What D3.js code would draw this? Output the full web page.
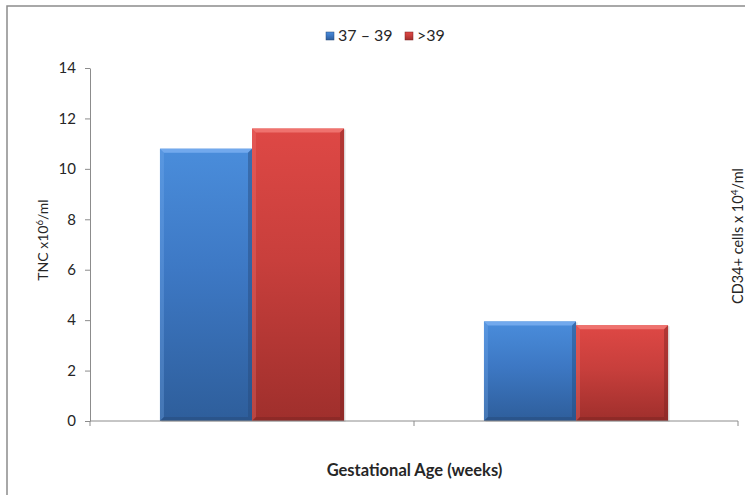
<!DOCTYPE html>
<html>
<head>
<meta charset="utf-8">
<script src="https://cdn.jsdelivr.net/npm/d3@7"></script>
<style>
  html, body { margin: 0; padding: 0; background: #fff; }
  svg { display: block; font-family: Lato, "Open Sans", sans-serif; }
</style>
</head>
<body>
<svg id="chart" width="745" height="495"></svg>
<script>
// ---- data ----
const categories = ["TNC", "CD34+"];
const seriesNames = ["37 – 39", ">39"];
const series1 = [10.8, 3.95];   // 37 – 39
const series2 = [11.6, 3.8];    // >39
const yTicks = [0, 2, 4, 6, 8, 10, 12, 14];
const yTitle = "TNC x10";
const yTitleSup = "6";
const yTitleTail = "/ml";
const y2Title = "CD34+ cells x 10";
const y2TitleSup = "4";
const y2TitleTail = "/ml";
const xTitle = "Gestational Age (weeks)";

const palette = {
  "37 – 39": { top: "#4a8ddb", mid: "#3d78c4", bot: "#2e5e9b", light: "#79aef0", dark: "#25497a" },
  ">39":     { top: "#de4845", mid: "#c83f3c", bot: "#9f2f2c", light: "#f27a76", dark: "#7c2321" }
};

const svg = d3.select("#chart");
const plotL = 90, plotR = 738, plotT = 68, plotB = 421;

// chart border
svg.append("rect").attr("x", 7).attr("y", 6).attr("width", 760).attr("height", 510)
  .attr("fill", "none").attr("stroke", "#8c8c8c").attr("stroke-width", 1.5);

const x = d3.scaleBand().domain(categories).range([plotL, plotR]).paddingInner(0).paddingOuter(0);
const xs = d3.scaleBand().domain(seriesNames).range([0, x.bandwidth()]).paddingInner(0).paddingOuter(0.76);
const y = d3.scaleLinear().domain([0, 14]).range([plotB, plotT]);

// gradients
const defs = svg.append("defs");
seriesNames.forEach((s, i) => {
  const g = defs.append("linearGradient").attr("id", "grad" + i)
    .attr("x1", 0).attr("y1", 0).attr("x2", 0).attr("y2", 1);
  g.append("stop").attr("offset", "0%").attr("stop-color", palette[s].top);
  g.append("stop").attr("offset", "45%").attr("stop-color", palette[s].mid);
  g.append("stop").attr("offset", "100%").attr("stop-color", palette[s].bot);
});

// y axis
const yAxis = d3.axisLeft(y).tickValues(yTicks).tickSize(5).tickSizeOuter(0).tickPadding(9);
const ga = svg.append("g").attr("transform", `translate(${plotL},0)`).call(yAxis);
ga.select(".domain").attr("stroke", "#8c8c8c");
ga.selectAll(".tick line").attr("stroke", "#8c8c8c");
ga.selectAll(".tick text").attr("fill", "#262626").style("font-size", "15px").style("font-family", "Lato, 'Open Sans', sans-serif");

// bars
const data = [];
categories.forEach((c, ci) => {
  data.push({ cat: c, s: seriesNames[0], si: 0, v: series1[ci] });
  data.push({ cat: c, s: seriesNames[1], si: 1, v: series2[ci] });
});
const bev = 4;
const bars = svg.append("g").selectAll("g").data(data).join("g");
bars.each(function(d) {
  const g = d3.select(this);
  const x0 = x(d.cat) + xs(d.s), w = xs.bandwidth();
  const y0 = y(d.v), h = y(0) - y(d.v);
  const p = palette[d.s];
  g.append("rect").attr("x", x0 + 1.5).attr("y", y0 + 1).attr("width", w).attr("height", h)
    .attr("fill", "#000").attr("opacity", 0.12);
  g.append("rect").attr("x", x0).attr("y", y0).attr("width", w).attr("height", h)
    .attr("fill", `url(#grad${d.si})`);
  const x1 = x0 + w, y1 = y0 + h;
  g.append("polygon").attr("points", [[x0, y0], [x1, y0], [x1 - bev, y0 + bev], [x0 + bev, y0 + bev]].join(" "))
    .attr("fill", p.light).attr("opacity", 0.85);
  g.append("polygon").attr("points", [[x0, y0], [x0 + bev, y0 + bev], [x0 + bev, y1 - bev], [x0, y1]].join(" "))
    .attr("fill", p.light).attr("opacity", 0.3);
  g.append("polygon").attr("points", [[x1, y0], [x1 - bev, y0 + bev], [x1 - bev, y1 - bev], [x1, y1]].join(" "))
    .attr("fill", p.dark).attr("opacity", 0.45);
  g.append("polygon").attr("points", [[x0, y1], [x1, y1], [x1 - bev, y1 - bev], [x0 + bev, y1 - bev]].join(" "))
    .attr("fill", p.dark).attr("opacity", 0.5);
});

// x axis (ticks at category boundaries)
const xb = svg.append("g");
xb.append("line").attr("x1", plotL).attr("x2", plotR).attr("y1", y(0)).attr("y2", y(0))
  .attr("stroke", "#8c8c8c");
const bounds = categories.map(c => x(c)).concat([x(categories[categories.length - 1]) + x.bandwidth()]);
xb.selectAll("line.tk").data(bounds).join("line").attr("class", "tk")
  .attr("x1", d => d).attr("x2", d => d).attr("y1", y(0)).attr("y2", y(0) + 5)
  .attr("stroke", "#8c8c8c");

// titles
const t1 = svg.append("text").attr("transform", `translate(48,240) rotate(-90)`)
  .attr("text-anchor", "middle").attr("fill", "#262626").style("font-size", "14px");
t1.append("tspan").text(yTitle);
t1.append("tspan").attr("dy", -5).style("font-size", "9.5px").text(yTitleSup);
t1.append("tspan").attr("dy", 5).text(yTitleTail);

const t2 = svg.append("text").attr("transform", `translate(743,236) rotate(-90)`)
  .attr("text-anchor", "middle").attr("fill", "#262626").style("font-size", "14.5px");
t2.append("tspan").text(y2Title);
t2.append("tspan").attr("dy", -5).style("font-size", "10px").text(y2TitleSup);
t2.append("tspan").attr("dy", 5).text(y2TitleTail);

svg.append("text").attr("x", 414.5).attr("y", 476).attr("text-anchor", "middle")
  .attr("fill", "#262626").style("font-size", "16.5px").style("font-weight", "bold").text(xTitle);

// legend
const leg = svg.append("g");
const legItems = [{ s: seriesNames[0], i: 0, x: 326 }, { s: seriesNames[1], i: 1, x: 405 }];
legItems.forEach(it => {
  leg.append("rect").attr("x", it.x).attr("y", 32).attr("width", 8).attr("height", 8)
    .attr("fill", `url(#grad${it.i})`).attr("stroke", palette[it.s].dark).attr("stroke-width", 0.5);
  leg.append("text").attr("x", it.x + 12).attr("y", 41).attr("fill", "#262626")
    .style("font-size", "16px").text(it.s);
});
</script>
</body>
</html>
